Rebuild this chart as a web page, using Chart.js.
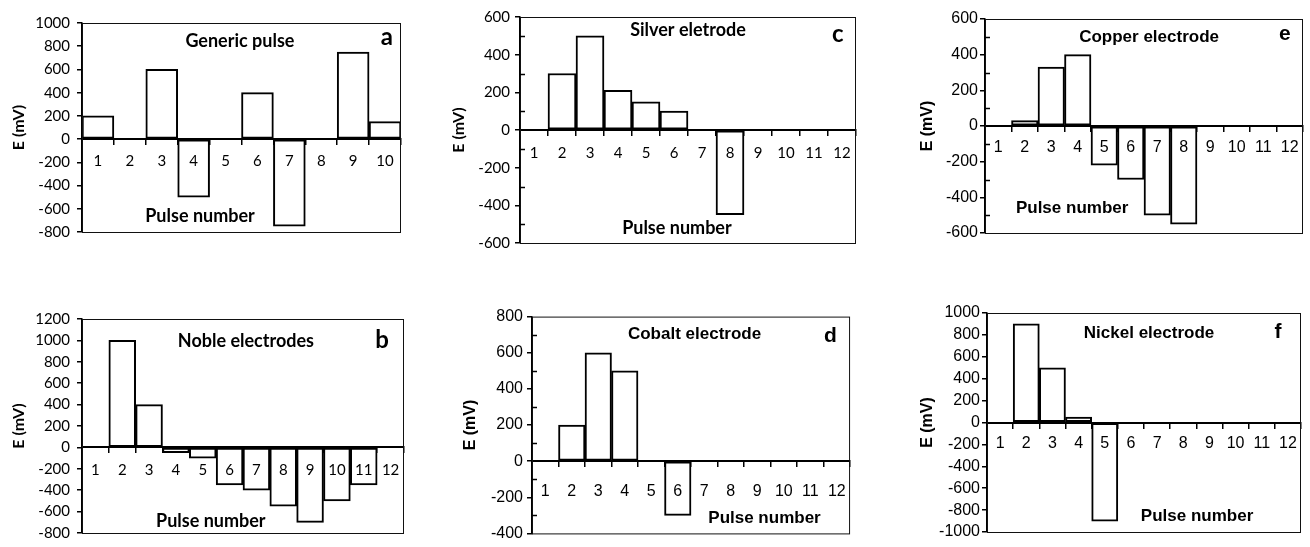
<!DOCTYPE html>
<html>
<head>
<meta charset="utf-8">
<script src="https://cdn.jsdelivr.net/npm/chart.js@4.4.1/dist/chart.umd.min.js"></script>
<style>
  body { margin: 0; background: #fff; }
  .panel { position: absolute; }
</style>
</head>
<body>
<div class="panel" id="boxA"><canvas id="chartA"></canvas></div>
<div class="panel" id="boxC"><canvas id="chartC"></canvas></div>
<div class="panel" id="boxE"><canvas id="chartE"></canvas></div>
<div class="panel" id="boxB"><canvas id="chartB"></canvas></div>
<div class="panel" id="boxD"><canvas id="chartD"></canvas></div>
<div class="panel" id="boxF"><canvas id="chartF"></canvas></div>
<script>
// pulse numbers
const pulses10 = ['1', '2', '3', '4', '5', '6', '7', '8', '9', '10'];
const pulses12 = ['1', '2', '3', '4', '5', '6', '7', '8', '9', '10', '11', '12'];

// E (mV) per pulse
const genericPulse    = [200, 0, 600, -500, 0, 400, -750, 0, 750, 150];
const nobleElectrodes = [0, 1000, 400, -50, -100, -350, -400, -550, -700, -500, -350, 0];
const silverElectrode = [0, 300, 500, 210, 150, 100, 0, -450, 0, 0, 0, 0];
const cobaltElectrode = [0, 200, 600, 500, 0, -300, 0, 0, 0, 0, 0, 0];
const copperElectrode = [0, 30, 330, 400, -220, -300, -500, -550, 0, 0, 0, 0];
const nickelElectrode = [0, 900, 500, 50, -900, 0, 0, 0, 0, 0, 0, 0];

// y axis ranges [min, max, step, minor step]
const rangeA = [-800, 1000, 200, 0];
const rangeB = [-800, 1200, 200, 0];
const rangeC = [-600, 600, 200, 100];
const rangeD = [-400, 800, 200, 100];
const rangeE = [-600, 600, 200, 100];
const rangeF = [-1000, 1000, 200, 0];

const CALIBRI = 'Lato, "Open Sans", sans-serif';
const ARIAL = '"Liberation Sans", Arial, sans-serif';

// draws the box around the plot, inner minor ticks and the texts
const panelDecor = {
    id: 'panelDecor',
    afterDraw(chart, args, opts) {
        const ctx = chart.ctx;
        const a = chart.chartArea;
        const w = a.right - a.left, h = a.bottom - a.top;
        ctx.save();
        ctx.strokeStyle = '#111';
        ctx.lineWidth = 1;
        ctx.strokeRect(a.left + 0.5, a.top + 0.5, w - 1, h);

        if (opts.minor) {
            const y = chart.scales.y;
            ctx.lineWidth = 1.5;
            ctx.strokeStyle = '#000';
            for (let v = y.min; v <= y.max; v += opts.minor) {
                if (v % opts.major === 0) continue;
                const py = Math.round(y.getPixelForValue(v)) + 0.5;
                ctx.beginPath();
                ctx.moveTo(a.left, py);
                ctx.lineTo(a.left + 5, py);
                ctx.stroke();
            }
        }

        ctx.fillStyle = '#000';
        ctx.textAlign = 'center';
        ctx.textBaseline = 'middle';
        ctx.font = 'bold ' + opts.titleSize + 'px ' + opts.family;
        ctx.fillText(opts.title, a.left + w * opts.titlePos[0], a.top + h * opts.titlePos[1]);
        ctx.fillText('Pulse number', a.left + w * opts.xlabPos[0], a.top + h * opts.xlabPos[1]);
        ctx.font = 'bold ' + opts.letterSize + 'px ' + opts.family;
        ctx.fillText(opts.letter, a.left + w * opts.letterPos[0], a.top + h * opts.letterPos[1]);
        ctx.restore();
    }
};

function makePanel(p) {
    const box = document.getElementById(p.box);
    const left = p.titleX - 10;
    const top = p.plot[2] - 12;
    const width = p.plot[1] + 7 - left;
    const height = p.plot[3] + 12 - top;
    box.style.left = left + 'px';
    box.style.top = top + 'px';
    const canvas = document.getElementById(p.canvas);
    canvas.width = width;
    canvas.height = height;
    const axisW = p.plot[0] - left;
    const [min, max, step, minor] = p.range;

    new Chart(canvas.getContext('2d'), {
        type: 'bar',
        data: {
            labels: p.labels,
            datasets: [{
                data: p.values,
                backgroundColor: '#fff',
                borderColor: '#000',
                borderWidth: 2,
                borderSkipped: false,
                barPercentage: 1,
                categoryPercentage: 1
            }]
        },
        options: {
            responsive: false,
            animation: false,
            devicePixelRatio: 1,
            layout: { padding: { left: 0, top: 12, right: 7, bottom: 12 } },
            plugins: {
                legend: { display: false },
                tooltip: { enabled: false },
                panelDecor: {
                    title: p.title, letter: p.letter, family: p.family,
                    titleSize: p.titleSize, letterSize: p.letterSize,
                    titlePos: p.titlePos, letterPos: p.letterPos, xlabPos: p.xlabPos,
                    minor: minor, major: step
                }
            },
            scales: {
                x: {
                    type: 'category',
                    position: { y: 0 },
                    offset: true,
                    grid: { z: 1, offset: true, drawOnChartArea: false, tickLength: 5, color: '#000', lineWidth: 1.5 },
                    border: { z: 1, color: '#000', width: 2 },
                    ticks: { z: 1, color: '#000', padding: p.xPad, maxRotation: 0, autoSkip: false,
                             font: { family: p.family, size: p.tickSize } }
                },
                y: {
                    min: min, max: max,
                    afterFit: s => { s.width = axisW; },
                    grid: {
                        drawOnChartArea: false, tickLength: 5, lineWidth: 1.5,
                        tickColor: c => (c.tick && c.tick.value % step !== 0) ? 'rgba(0,0,0,0)' : '#000'
                    },
                    border: { color: '#000', width: 1.5 },
                    ticks: {
                        stepSize: minor || step,
                        autoSkip: false,
                        color: '#000',
                        padding: p.yPad,
                        font: { family: p.family, size: p.tickSize },
                        callback: v => (v % step === 0 ? String(v) : '')
                    },
                    title: {
                        display: true, text: 'E (mV)', color: '#000',
                        padding: { top: 1, bottom: 0 },
                        font: { family: p.family, size: 16, weight: 'bold' }
                    }
                }
            }
        },
        plugins: [panelDecor]
    });
}

makePanel({ box: 'boxA', canvas: 'chartA', titleX: 18, plot: [82, 401, 19, 236],
    labels: pulses10, values: genericPulse, range: rangeA, family: CALIBRI,
    tickSize: 15, titleSize: 18, letterSize: 24, xPad: 8, yPad: 7,
    title: 'Generic pulse', letter: 'a',
    titlePos: [0.495, 0.088], letterPos: [0.956, 0.07], xlabPos: [0.37, 0.926] });

makePanel({ box: 'boxC', canvas: 'chartC', titleX: 458, plot: [520, 856, 15, 245],
    labels: pulses12, values: silverElectrode, range: rangeC, family: CALIBRI,
    tickSize: 15, titleSize: 18, letterSize: 24, xPad: 9, yPad: 5,
    title: 'Silver eletrode', letter: 'c',
    titlePos: [0.5, 0.057], letterPos: [0.946, 0.078], xlabPos: [0.467, 0.935] });

makePanel({ box: 'boxE', canvas: 'chartE', titleX: 927, plot: [985, 1303, 19, 233],
    labels: pulses12, values: copperElectrode, range: rangeE, family: ARIAL,
    tickSize: 16, titleSize: 17, letterSize: 21, xPad: 7, yPad: 2,
    title: 'Copper electrode', letter: 'e',
    titlePos: [0.516, 0.084], letterPos: [0.943, 0.07], xlabPos: [0.274, 0.883] });

makePanel({ box: 'boxB', canvas: 'chartB', titleX: 18, plot: [82, 404, 315, 537],
    labels: pulses12, values: nobleElectrodes, range: rangeB, family: CALIBRI,
    tickSize: 15, titleSize: 18, letterSize: 24, xPad: 9, yPad: 7,
    title: 'Noble electrodes', letter: 'b',
    titlePos: [0.509, 0.104], letterPos: [0.932, 0.099], xlabPos: [0.40, 0.946] });

makePanel({ box: 'boxD', canvas: 'chartD', titleX: 470, plot: [532, 855, 315, 535],
    labels: pulses12, values: cobaltElectrode, range: rangeD, family: ARIAL,
    tickSize: 16, titleSize: 17, letterSize: 21, xPad: 16, yPad: 4,
    title: 'Cobalt electrode', letter: 'd',
    titlePos: [0.511, 0.082], letterPos: [0.938, 0.091], xlabPos: [0.731, 0.932] });

makePanel({ box: 'boxF', canvas: 'chartF', titleX: 927, plot: [987, 1301, 313, 532],
    labels: pulses12, values: nickelElectrode, range: rangeF, family: ARIAL,
    tickSize: 16, titleSize: 17, letterSize: 21, xPad: 6, yPad: 2,
    title: 'Nickel electrode', letter: 'f',
    titlePos: [0.516, 0.091], letterPos: [0.927, 0.087], xlabPos: [0.669, 0.927] });
</script>
</body>
</html>
